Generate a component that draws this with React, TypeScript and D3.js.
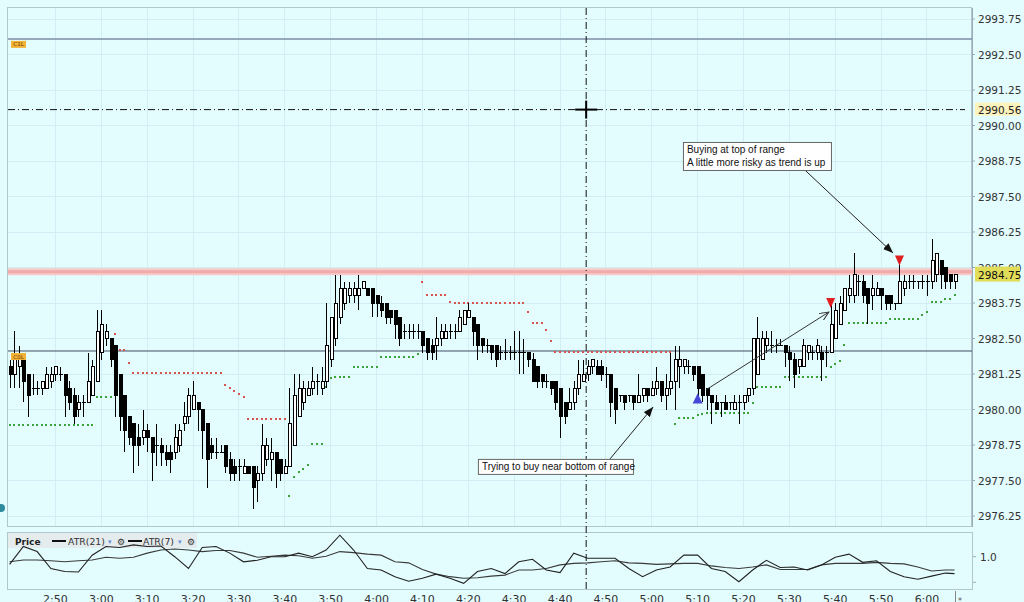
import { line, scaleLinear } from "d3";

// one candle per minute, index 0 = 2:40
const opens = [
  2981.5, 2981.25, 2981.5, 2981.75, 2981.25, 2980.75, 2980.75, 2980.75, 2980.75, 2981.0,
  2981.25, 2981.25, 2981.25, 2980.75, 2980.5, 2980.0, 2980.25, 2980.25, 2980.5, 2981.0,
  2982.0, 2982.5, 2982.5, 2982.25, 2981.25, 2980.5, 2979.75, 2979.5, 2979.0, 2979.0,
  2979.25, 2979.0, 2978.75, 2978.75, 2978.5, 2978.5, 2978.5, 2978.75, 2979.5, 2979.75,
  2980.0, 2980.25, 2980.0, 2979.5, 2978.75, 2978.5, 2978.5, 2978.75, 2978.25, 2978.0,
  2978.0, 2977.75, 2978.0, 2978.0, 2977.5, 2977.75, 2978.25, 2978.25, 2978.5, 2978.25,
  2977.75, 2978.0, 2978.75, 2979.75, 2980.25, 2980.5, 2980.75, 2981.0, 2980.75, 2981.0,
  2981.75, 2982.5, 2983.25, 2983.75, 2984.0, 2984.0, 2984.0, 2984.25, 2984.25, 2984.25,
  2984.0, 2983.75, 2983.75, 2983.5, 2983.5, 2983.25, 2982.75, 2982.75, 2982.75, 2982.75,
  2982.75, 2982.5, 2982.25, 2982.25, 2982.5, 2982.5, 2982.75, 2982.75, 2982.75, 2983.0,
  2983.25, 2983.25, 2983.0, 2982.5, 2982.25, 2982.25, 2982.25, 2982.0, 2982.0, 2982.0,
  2982.0, 2982.0, 2982.0, 2982.0, 2981.75, 2981.5, 2981.25, 2981.0, 2981.0, 2981.0,
  2980.75, 2980.25, 2980.0, 2980.25, 2980.75, 2981.0, 2981.25, 2981.5, 2981.5, 2981.5,
  2981.25, 2981.25, 2980.75, 2980.5, 2980.5, 2980.5, 2980.5, 2980.25, 2980.5, 2980.75,
  2980.5, 2980.75, 2981.0, 2980.5, 2980.75, 2981.0, 2981.5, 2981.5, 2981.5, 2981.5,
  2981.5, 2981.25, 2980.75, 2980.5, 2980.25, 2980.25, 2980.25, 2980.25, 2980.0, 2980.25,
  2980.25, 2980.5, 2980.75, 2981.25, 2981.75, 2982.25, 2982.25, 2982.25, 2982.25, 2982.25,
  2982.0, 2981.75, 2981.5, 2981.5, 2982.0, 2982.0, 2982.0, 2982.0, 2982.0, 2982.0,
  2982.5, 2983.0, 2983.5, 2984.0, 2984.0, 2984.5, 2984.5, 2984.25, 2984.0, 2984.0,
  2984.25, 2984.0, 2984.0, 2983.75, 2983.75, 2984.25, 2984.5, 2984.5, 2984.5, 2984.5,
  2984.5, 2984.5, 2984.75, 2985.25, 2985.0, 2984.75, 2984.5,
];
const highs = [
  2981.75, 2982.75, 2982.25, 2981.75, 2981.25, 2981.25, 2981.0, 2981.0, 2981.5, 2981.5,
  2981.5, 2981.5, 2981.25, 2981.0, 2980.75, 2980.5, 2980.5, 2982.0, 2981.75, 2983.5,
  2983.5, 2983.0, 2982.5, 2982.25, 2981.25, 2980.5, 2979.75, 2979.5, 2979.5, 2980.0,
  2979.5, 2979.0, 2979.5, 2979.0, 2978.75, 2978.75, 2979.5, 2979.5, 2980.25, 2980.75,
  2981.0, 2980.25, 2980.0, 2979.5, 2979.0, 2979.0, 2978.75, 2978.75, 2978.5, 2978.25,
  2978.25, 2978.25, 2978.0, 2978.0, 2978.0, 2979.5, 2979.0, 2979.0, 2978.5, 2978.25,
  2978.25, 2980.75, 2981.25, 2981.25, 2981.0, 2981.0, 2981.5, 2981.25, 2981.5, 2983.75,
  2983.25, 2984.75, 2984.75, 2984.5, 2984.5, 2984.5, 2984.75, 2984.5, 2984.25, 2984.25,
  2984.0, 2984.0, 2983.75, 2983.5, 2983.5, 2983.25, 2983.0, 2983.0, 2983.0, 2983.0,
  2982.75, 2982.5, 2982.5, 2983.25, 2983.0, 2983.0, 2983.0, 2983.0, 2983.5, 2983.5,
  2983.75, 2983.25, 2983.0, 2982.5, 2982.5, 2982.25, 2982.25, 2982.25, 2982.5, 2982.25,
  2982.75, 2982.75, 2982.5, 2982.0, 2982.0, 2981.5, 2981.25, 2981.25, 2981.0, 2981.0,
  2980.75, 2980.25, 2980.75, 2981.0, 2981.75, 2981.75, 2981.75, 2981.75, 2981.75, 2981.75,
  2981.5, 2981.25, 2980.75, 2980.5, 2980.5, 2980.5, 2980.5, 2981.25, 2980.75, 2980.75,
  2981.0, 2981.5, 2981.0, 2981.25, 2982.0, 2982.25, 2982.25, 2981.75, 2981.75, 2981.5,
  2981.5, 2981.25, 2980.75, 2980.5, 2980.5, 2980.25, 2980.5, 2980.25, 2980.5, 2980.5,
  2980.5, 2980.75, 2982.5, 2983.25, 2982.75, 2982.75, 2982.75, 2982.5, 2982.5, 2982.25,
  2982.25, 2982.0, 2981.75, 2982.5, 2982.25, 2982.25, 2982.5, 2982.25, 2982.25, 2983.75,
  2983.75, 2984.0, 2984.25, 2984.75, 2985.5, 2984.75, 2984.75, 2984.25, 2984.75, 2984.5,
  2984.25, 2984.0, 2984.0, 2983.75, 2985.25, 2984.75, 2984.75, 2984.75, 2984.5, 2984.75,
  2984.75, 2986.0, 2985.5, 2985.25, 2985.0, 2984.75, 2984.75,
];
const lows = [
  2980.75, 2980.75, 2980.75, 2980.25, 2979.75, 2980.5, 2980.5, 2980.5, 2980.75, 2980.75,
  2981.0, 2981.0, 2979.75, 2980.0, 2979.5, 2979.75, 2979.75, 2980.25, 2980.5, 2981.0,
  2981.75, 2982.25, 2981.5, 2979.75, 2979.25, 2978.5, 2978.75, 2977.75, 2978.0, 2978.75,
  2978.5, 2977.5, 2978.0, 2978.0, 2978.0, 2977.75, 2978.25, 2978.5, 2979.25, 2979.5,
  2980.0, 2979.25, 2978.25, 2977.25, 2978.25, 2978.25, 2978.5, 2977.75, 2977.5, 2977.5,
  2977.5, 2977.75, 2977.75, 2976.5, 2976.75, 2977.5, 2978.0, 2977.5, 2977.25, 2977.5,
  2977.75, 2978.0, 2978.75, 2979.75, 2980.0, 2980.5, 2980.5, 2980.5, 2980.5, 2980.75,
  2981.5, 2982.25, 2983.0, 2983.5, 2983.75, 2983.75, 2983.5, 2984.25, 2984.0, 2983.25,
  2983.25, 2983.25, 2983.0, 2983.0, 2982.5, 2982.25, 2982.5, 2982.5, 2982.5, 2982.5,
  2982.0, 2981.75, 2981.75, 2981.75, 2982.25, 2982.5, 2982.5, 2982.5, 2982.75, 2983.0,
  2983.25, 2982.25, 2981.75, 2982.0, 2982.0, 2981.75, 2981.5, 2981.75, 2981.75, 2981.75,
  2981.75, 2981.25, 2981.25, 2981.5, 2981.0, 2980.75, 2980.75, 2980.75, 2980.5, 2980.0,
  2979.0, 2979.5, 2980.0, 2980.0, 2980.5, 2981.0, 2981.0, 2981.25, 2981.25, 2981.0,
  2980.75, 2979.75, 2979.5, 2980.25, 2980.0, 2980.25, 2980.0, 2980.25, 2980.25, 2980.25,
  2980.5, 2980.5, 2980.25, 2980.0, 2980.5, 2980.0, 2980.75, 2981.25, 2981.25, 2981.0,
  2980.25, 2980.25, 2980.0, 2979.5, 2980.0, 2979.75, 2980.0, 2980.0, 2980.0, 2979.5,
  2980.0, 2980.25, 2980.5, 2981.25, 2981.75, 2982.0, 2982.0, 2982.0, 2982.25, 2981.5,
  2981.0, 2980.75, 2981.25, 2981.5, 2981.75, 2981.75, 2981.75, 2981.0, 2981.5, 2982.0,
  2982.5, 2983.0, 2983.5, 2983.75, 2983.75, 2984.0, 2983.75, 2983.0, 2983.5, 2984.0,
  2983.5, 2983.5, 2983.5, 2983.5, 2983.75, 2984.0, 2984.25, 2984.25, 2984.25, 2984.25,
  2984.0, 2984.25, 2984.5, 2984.25, 2984.25, 2984.25, 2984.25,
];
const closes = [
  2981.25, 2981.75, 2981.75, 2981.0, 2980.5, 2980.75, 2980.75, 2981.0, 2981.25, 2981.25,
  2981.5, 2981.25, 2980.5, 2980.25, 2979.75, 2980.25, 2980.25, 2981.0, 2981.5, 2982.75,
  2983.0, 2982.75, 2981.75, 2980.5, 2979.75, 2979.25, 2979.0, 2978.75, 2978.75, 2979.25,
  2979.0, 2978.5, 2978.75, 2978.5, 2978.25, 2978.25, 2979.0, 2979.25, 2979.75, 2980.5,
  2980.5, 2980.0, 2979.25, 2978.25, 2978.5, 2978.5, 2978.5, 2978.0, 2977.75, 2977.75,
  2978.0, 2978.0, 2977.75, 2977.25, 2977.75, 2978.75, 2978.75, 2978.5, 2977.75, 2977.75,
  2978.0, 2979.5, 2980.5, 2980.75, 2980.75, 2980.75, 2981.0, 2981.0, 2981.0, 2982.25,
  2983.25, 2983.75, 2984.25, 2984.25, 2984.25, 2984.25, 2984.25, 2984.5, 2984.0, 2983.75,
  2983.75, 2983.5, 2983.25, 2983.25, 2983.0, 2982.5, 2982.75, 2982.75, 2982.75, 2982.75,
  2982.25, 2982.0, 2982.0, 2982.5, 2982.75, 2982.75, 2982.75, 2982.75, 2983.25, 2983.5,
  2983.5, 2982.75, 2982.25, 2982.25, 2982.25, 2982.0, 2981.75, 2982.0, 2982.0, 2982.0,
  2982.0, 2982.0, 2982.0, 2981.75, 2981.0, 2981.0, 2981.0, 2981.0, 2980.75, 2980.25,
  2979.75, 2979.75, 2980.25, 2980.75, 2981.25, 2981.25, 2981.5, 2981.75, 2981.25, 2981.25,
  2981.25, 2980.25, 2980.0, 2980.5, 2980.25, 2980.5, 2980.25, 2980.5, 2980.75, 2980.5,
  2980.75, 2981.0, 2980.5, 2980.75, 2981.0, 2981.75, 2981.75, 2981.75, 2981.5, 2981.25,
  2980.75, 2980.5, 2980.5, 2980.25, 2980.0, 2980.25, 2980.0, 2980.25, 2980.25, 2980.25,
  2980.5, 2980.75, 2982.5, 2982.5, 2982.5, 2982.5, 2982.25, 2982.25, 2982.25, 2982.0,
  2981.75, 2981.25, 2981.75, 2982.25, 2982.25, 2982.0, 2982.25, 2981.75, 2982.0, 2983.0,
  2983.5, 2983.75, 2984.25, 2984.25, 2984.75, 2984.5, 2984.0, 2983.75, 2984.25, 2984.25,
  2984.0, 2983.75, 2983.75, 2983.75, 2984.5, 2984.5, 2984.5, 2984.5, 2984.5, 2984.5,
  2984.5, 2985.25, 2985.5, 2984.75, 2984.5, 2984.5, 2984.75,
];

// parabolic SAR, one value per candle (above price = red, below = green)
const sar = [
  2979.45, 2979.45, 2979.45, 2979.45, 2979.45, 2979.45, 2979.45, 2979.45, 2979.45, 2979.45,
  2979.45, 2979.45, 2979.45, 2979.45, 2979.45, 2979.45, 2979.45, 2979.45, 2979.45, 2980.45,
  2980.45, 2980.45, 2980.45, 2982.65, 2982.1, 2982.1, 2981.62, 2981.27, 2981.27, 2981.27,
  2981.27, 2981.27, 2981.27, 2981.27, 2981.27, 2981.27, 2981.27, 2981.27, 2981.27, 2981.27,
  2981.27, 2981.27, 2981.27, 2981.27, 2981.27, 2981.27, 2981.27, 2980.86, 2980.75, 2980.65,
  2980.55, 2980.45, 2979.65, 2979.65, 2979.65, 2979.65, 2979.65, 2979.65, 2979.65, 2979.65,
  2979.65, 2976.95, 2977.63, 2977.81, 2977.92, 2978.04, 2978.8, 2978.8, 2978.8, 2980.8,
  2981.1, 2981.15, 2981.15, 2981.15, 2981.15, 2981.5, 2981.5, 2981.5, 2981.5, 2981.5,
  2981.5, 2981.85, 2981.85, 2981.85, 2981.85, 2981.85, 2981.85, 2981.85, 2981.85, 2981.97,
  2984.5, 2984.03, 2984.03, 2984.03, 2984.03, 2984.03, 2983.8, 2983.76, 2983.76, 2983.76,
  2983.76, 2983.76, 2983.76, 2983.76, 2983.76, 2983.76, 2983.76, 2983.76, 2983.76, 2983.76,
  2983.76, 2983.76, 2983.76, 2983.45, 2983.05, 2983.05, 2983.05, 2982.8, 2982.4, 2982.03,
  2982.03, 2982.03, 2982.03, 2982.03, 2982.03, 2982.03, 2982.03, 2982.03, 2982.03, 2982.03,
  2982.03, 2982.03, 2982.03, 2982.03, 2982.03, 2982.03, 2982.03, 2982.03, 2982.03, 2982.03,
  2982.03, 2982.03, 2982.03, 2982.03, 2982.03, 2979.5, 2979.7, 2979.7, 2979.7, 2979.7,
  2979.8, 2979.85, 2979.89, 2979.89, 2979.89, 2979.89, 2979.89, 2979.89, 2979.89, 2979.89,
  2979.89, 2979.89, 2980.22, 2980.8, 2980.8, 2980.8, 2980.8, 2980.8, 2980.8, 2981.16,
  2981.16, 2981.16, 2981.16, 2981.16, 2981.16, 2981.16, 2981.16, 2981.16, 2981.16, 2981.5,
  2981.6, 2981.7, 2982.27, 2983.03, 2983.03, 2983.03, 2983.03, 2983.03, 2983.03, 2983.03,
  2983.03, 2983.03, 2983.17, 2983.17, 2983.17, 2983.17, 2983.17, 2983.17, 2983.17, 2983.33,
  2983.45, 2983.8, 2983.8, 2983.8, 2983.9, 2983.9, 2984.03,
];

// ATR panel, one reading every 3 minutes (last one at the final bar)
const atr21 = [
  0.9, 0.935, 0.935, 0.92, 0.9, 0.92, 0.935, 0.99, 0.97, 0.99,
  1.07, 1.13, 1.15, 1.13, 1.1, 1.12, 1.12, 1.07, 0.99, 1.01,
  1.03, 1.02, 0.97, 1.01, 1.1, 1.08, 1.05, 1.03, 0.9, 0.88,
  0.75, 0.66, 0.61, 0.58, 0.59, 0.62, 0.64, 0.74, 0.74, 0.77,
  0.84, 0.87, 0.88, 0.9, 0.92, 0.88, 0.87, 0.85, 0.86, 0.87,
  0.87, 0.82, 0.79, 0.77, 0.8, 0.84, 0.75, 0.75, 0.75, 0.84,
  0.87, 0.87, 0.87, 0.89, 0.87, 0.86, 0.8, 0.72, 0.74, 0.74,
];
const atr7 = [
  0.85, 1.2, 1.1, 0.77, 0.71, 0.7, 1.03, 1.2, 1.18, 1.23,
  1.2, 1.21, 1.0, 0.77, 1.18, 1.2, 1.07, 0.9, 0.93, 1.0,
  1.0, 1.07, 1.0, 1.13, 1.42, 1.13, 0.77, 0.74, 0.61, 0.52,
  0.58, 0.66, 0.58, 0.48, 0.71, 0.77, 0.67, 0.9, 0.95, 0.74,
  0.69, 1.07, 0.97, 0.97, 0.97, 0.77, 0.61, 0.74, 0.8, 1.03,
  1.03, 0.77, 0.71, 0.51, 0.74, 0.93, 0.79, 0.8, 0.74, 0.84,
  0.99, 1.05, 0.89, 0.92, 0.71, 0.61, 0.56, 0.62, 0.68, 0.67,
];

const timeTickMinutes = [10, 20, 30, 40, 50, 60, 70, 80, 90, 100, 110, 120, 130, 140, 150, 160, 170, 180, 190, 200];
const timeTickLabels = ["2:50", "3:00", "3:10", "3:20", "3:30", "3:40", "3:50", "4:00", "4:10", "4:20",
  "4:30", "4:40", "4:50", "5:00", "5:10", "5:20", "5:30", "5:40", "5:50", "6:00"];
const priceTicks = [2976.25, 2977.5, 2978.75, 2980.0, 2981.25, 2982.5, 2983.75, 2985.0,
  2986.25, 2987.5, 2988.75, 2990.0, 2991.25, 2992.5, 2993.75];
const atrTicks = [0.5, 1.0];
const atrTickLabels = ["", "1.0"];

const levelPrices = [2993.05, 2982.06];
const levelNames = ["C1L", "C0L"];
const rangeTop = 2984.85;
const lastPrice = 2984.75;
const crossMinute = 125.7;
const crossPrice = 2990.56;

const buySignals = [150];
const sellSignals = [179, 194];

const FONT = '"DejaVu Sans", Verdana, sans-serif';
const NOTE_FONT = '"Liberation Sans", Arial, sans-serif';
const BG = "#e3fcfe";
const GRID = "#d0eef3";
const BORDER = "#b2c6ce";

export default function App() {
  const width = 1024;
  const height = 602;
  const plot = { left: 8, right: 972, top: 8, bottom: 527 };
  const sub = { top: 533, bottom: 590 };

  const x = scaleLinear().domain([0, 206]).range([9.6, 954.5]);
  const y = scaleLinear().domain([2976.25, 2993.75]).range([516, 19]);
  const ya = scaleLinear().domain([0.5, 1.0]).range([582.3, 556.7]);

  const atrLine = line<number>()
    .x((_, k) => x(Math.min(k * 3, 206)))
    .y((v) => ya(v));

  const crossX = x(crossMinute);
  const crossY = y(crossPrice);

  // annotation anchors in chart coordinates
  const note1 = { x: x(146.8), y: y(2989.42) };
  const note2 = { x: x(102.1), y: y(2978.26) };
  const arrow1 = [x(173.4), y(2988.43), x(192.6), y(2985.51)];
  const arrow2 = [x(130.9), y(2978.26), x(140.3), y(2980.09)];
  const arrow3 = [x(151.8), y(2980.69), x(178.6), y(2983.43)];

  return (
    <svg
      width={width}
      height={height}
      viewBox={`0 0 ${width} ${height}`}
      style={{ position: "absolute", left: 0, top: 0, background: BG }}
    >
      <defs>
        <marker id="headFilled" viewBox="0 0 10 8" refX="10" refY="4" markerWidth="10" markerHeight="8"
          markerUnits="userSpaceOnUse" orient="auto">
          <path d="M0,0 L10,4 L0,8 Z" fill="#111" />
        </marker>
        <marker id="headOpen" viewBox="0 0 10 8" refX="9" refY="4" markerWidth="10" markerHeight="8"
          markerUnits="userSpaceOnUse" orient="auto">
          <path d="M0,0 L9,4 L0,8" fill="none" stroke="#333" strokeWidth="1" />
        </marker>
      </defs>
      <rect x={0} y={0} width={width} height={height} fill={BG} />

      {/* grid */}
      <g stroke={GRID} strokeWidth={1} shapeRendering="crispEdges">
        {priceTicks.map((p) => (
          <line key={`h${p}`} x1={plot.left} x2={plot.right} y1={y(p)} y2={y(p)} />
        ))}
        {timeTickMinutes.map((m) => (
          <line key={`v${m}`} x1={x(m)} x2={x(m)} y1={plot.top} y2={plot.bottom} />
        ))}
      </g>

      {/* panel frames */}
      <g fill="none" shapeRendering="crispEdges">
        <rect x={plot.left - 0.5} y={plot.top - 0.5} width={plot.right - plot.left} height={plot.bottom - plot.top}
          stroke={BORDER} />
        <line x1={plot.right + 0.5} x2={plot.right + 0.5} y1={plot.top} y2={plot.bottom} stroke="#98acb6" />
        <rect x={plot.left - 0.5} y={sub.top - 0.5} width={plot.right - plot.left + 1} height={sub.bottom - sub.top}
          stroke={BORDER} />
      </g>

      {/* range band */}
      <line x1={plot.left} x2={plot.right} y1={y(rangeTop)} y2={y(rangeTop)} stroke="#f7c9c9" strokeWidth={7} />
      <line x1={plot.left} x2={plot.right} y1={y(rangeTop)} y2={y(rangeTop)} stroke="#efaaaa" strokeWidth={3} />

      {/* level lines */}
      <line x1={plot.left} x2={plot.right} y1={y(levelPrices[0])} y2={y(levelPrices[0])} stroke="#7e8ea6" strokeWidth={1.5} />
      <line x1={plot.left} x2={plot.right} y1={y(levelPrices[1])} y2={y(levelPrices[1])} stroke="#3e4d62" strokeWidth={1} />

      {/* SAR dots */}
      <g shapeRendering="crispEdges">
        {sar.map((s, i) => (
          <rect key={`s${i}`} x={x(i) - 1} y={y(s) - 1} width={2} height={2}
            fill={s > closes[i] ? "#d9534f" : "#3aa43a"} />
        ))}
      </g>

      {/* candles */}
      <g shapeRendering="crispEdges">
        {opens.map((o, i) => {
          const c = closes[i];
          const cx = Math.round(x(i)) + 0.5;
          const top = y(Math.max(o, c));
          const bot = y(Math.min(o, c));
          return (
            <g key={`c${i}`}>
              <line x1={cx} x2={cx} y1={y(highs[i])} y2={y(lows[i])} stroke="#000" />
              {o === c ? (
                <line x1={cx - 2} x2={cx + 2} y1={top} y2={top} stroke="#000" />
              ) : (
                <rect x={cx - 1.5} y={top} width={3} height={bot - top}
                  fill={c > o ? "#fff" : "#000"} stroke="#000" />
              )}
            </g>
          );
        })}
      </g>

      {/* signals */}
      {buySignals.map((i) => {
        const cx = x(i);
        const cy = y(lows[i]);
        return <path key={`b${i}`} d={`M${cx - 5},${cy + 1} L${cx + 5},${cy + 1} L${cx},${cy - 9} Z`} fill="#4646d8" />;
      })}
      {sellSignals.map((i) => {
        const cx = x(i);
        const cy = y(highs[i]);
        return <path key={`r${i}`} d={`M${cx - 4.5},${cy - 5} L${cx + 4.5},${cy - 5} L${cx},${cy + 5} Z`} fill="#e02020" />;
      })}

      {/* level tags */}
      {levelPrices.map((p, k) => (
        <g key={`lv${k}`}>
          <rect x={11} y={y(p) + 2} width={15} height={7} fill="#f2b237" />
          <text x={18.5} y={y(p) + 7.6} fontSize={5.5} fontFamily={FONT} textAnchor="middle" fill="#6b3a00">
            {levelNames[k]}
          </text>
        </g>
      ))}

      {/* crosshair */}
      <g stroke="#111" strokeWidth={1} strokeDasharray="7,3,1,3">
        <line x1={plot.left} x2={965} y1={crossY} y2={crossY} />
        <line x1={crossX} x2={crossX} y1={plot.top} y2={sub.bottom} />
      </g>
      <g stroke="#000" strokeWidth={2}>
        <line x1={crossX - 11} x2={crossX + 11} y1={crossY} y2={crossY} />
        <line x1={crossX} x2={crossX} y1={crossY - 9} y2={crossY + 9} />
      </g>

      {/* annotations */}
      <line x1={arrow1[0]} y1={arrow1[1]} x2={arrow1[2]} y2={arrow1[3]} stroke="#222" markerEnd="url(#headFilled)" />
      <line x1={arrow2[0]} y1={arrow2[1]} x2={arrow2[2]} y2={arrow2[3]} stroke="#222" markerEnd="url(#headFilled)" />
      <line x1={arrow3[0]} y1={arrow3[1]} x2={arrow3[2]} y2={arrow3[3]} stroke="#333" markerEnd="url(#headOpen)" />
      <g fontFamily={NOTE_FONT} fontSize={10} fill="#111">
        <rect x={note1.x + 0.5} y={note1.y + 0.5} width={148} height={28} fill="#fff" stroke="#666" />
        <text x={note1.x + 4} y={note1.y + 11.5}>Buying at top of range</text>
        <text x={note1.x + 4} y={note1.y + 24}>A little more risky as trend is up</text>
        <rect x={note2.x + 0.5} y={note2.y + 0.5} width={155} height={15} fill="#fff" stroke="#666" />
        <text x={note2.x + 4} y={note2.y + 11.5}>Trying to buy near bottom of range</text>
      </g>

      {/* price axis */}
      <g fontFamily={FONT} fontSize={10.5} fill="#333">
        {priceTicks.map((p) => (
          <g key={`pt${p}`}>
            <line x1={plot.right} x2={plot.right + 3} y1={y(p)} y2={y(p)} stroke="#98acb6" />
            <text x={978} y={y(p) + 4}>{p.toFixed(2)}</text>
          </g>
        ))}
        <rect x={975} y={crossY - 7} width={45} height={13} fill="#fdf4bd" />
        <text x={978} y={crossY + 4} fill="#222">{crossPrice.toFixed(2)}</text>
        <rect x={975} y={y(lastPrice) - 8} width={45} height={15} fill="#e2dd58" />
        <text x={978} y={y(lastPrice) + 4} fill="#111">{lastPrice.toFixed(2)}</text>
      </g>

      {/* ATR panel legend */}
      <rect x={8} y={sub.top} width={189} height={15} fill="#e4ecee" />
      <g fontFamily={FONT} fontSize={9.3} fill="#333">
        <text x={15} y={545} fontWeight="bold" fontSize={9} fill="#222">Price</text>
        <line x1={52} x2={66} y1={541} y2={541} stroke="#111" strokeWidth={2} />
        <text x={68} y={545}>ATR(21)</text>
        <text x={108} y={544} fontSize={7} fill="#6a8fd8">▾</text>
        <text x={117} y={545} fontSize={9} fill="#333">⚙</text>
        <line x1={128} x2={142} y1={541} y2={541} stroke="#111" strokeWidth={2} />
        <text x={143} y={545}>ATR(7)</text>
        <text x={178} y={544} fontSize={7} fill="#6a8fd8">▾</text>
        <text x={187} y={545} fontSize={9} fill="#333">⚙</text>
      </g>
      <path d={atrLine(atr21) ?? ""} fill="none" stroke="#3a3a3a" strokeWidth={1.1} />
      <path d={atrLine(atr7) ?? ""} fill="none" stroke="#222" strokeWidth={1.1} />
      <g fontFamily={FONT} fontSize={10.5} fill="#333">
        {atrTicks.map((v, k) => (
          <g key={`at${v}`}>
            <line x1={plot.right + 1} x2={plot.right + 4} y1={ya(v)} y2={ya(v)} stroke="#98acb6" />
            <text x={980} y={ya(v) + 4}>{atrTickLabels[k]}</text>
          </g>
        ))}
      </g>

      {/* time axis */}
      <g fontFamily={FONT} fontSize={11} fill="#333" textAnchor="middle">
        {timeTickMinutes.map((m, k) => (
          <text key={`tt${m}`} x={x(m)} y={603}>{timeTickLabels[k]}</text>
        ))}
      </g>
      <line x1={955.5} x2={955.5} y1={591} y2={602} stroke="#888" />
      <text x={958} y={604} fontSize={8} fill="#555" fontFamily={FONT}>*</text>

      {/* side widgets */}
      <circle cx={1} cy={508} r={4} fill="#2e8b9c" />
    </svg>
  );
}
